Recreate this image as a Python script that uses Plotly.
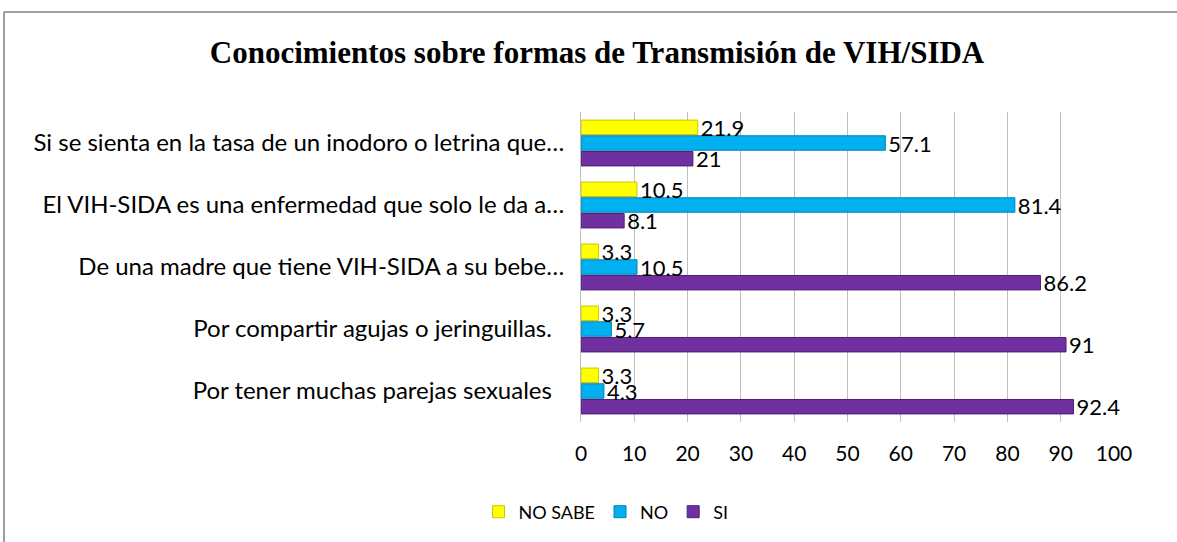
import plotly.graph_objects as go

categories = [
    "Por tener muchas parejas sexuales  ",
    "Por compartir agujas o jeringuillas.  ",
    "De una madre que tiene VIH-SIDA a su bebe…",
    "El VIH-SIDA es una enfermedad que solo le da a…",
    "Si se sienta en la tasa de un inodoro o letrina que…",
]
si = [92.4, 91, 86.2, 8.1, 21]
no = [4.3, 5.7, 10.5, 81.4, 57.1]
no_sabe = [3.3, 3.3, 3.3, 10.5, 21.9]
x_ticks = [0, 10, 20, 30, 40, 50, 60, 70, 80, 90, 100]

FONT = "Lato"

fig = go.Figure()
series = [
    ("SI", si, "#7030A0", "#4E1F73"),
    ("NO", no, "#00B0F0", "#0083B5"),
    ("NO SABE", no_sabe, "#FFFF00", "#C8C800"),
]
for name, vals, col, edge in series:
    fig.add_trace(go.Bar(
        y=categories, x=vals, name=name, orientation="h",
        marker=dict(color=col, line=dict(color=edge, width=1)),
        text=[str(v) for v in vals], textposition="outside",
        constraintext="none",
        textfont=dict(family=FONT, size=22, color="#000000"),
        cliponaxis=False,
    ))

L, R, T, B = 581, 1114, 112, 422
W, H = 1177, 542
pw, ph = R - L, B - T

fig.update_layout(
    width=W, height=H,
    margin=dict(l=L, r=W - R, t=T, b=H - B),
    paper_bgcolor="white", plot_bgcolor="white",
    barmode="group", bargap=0.24, bargroupgap=0.08,
    title=dict(text="<b>Conocimientos sobre formas de Transmisión de VIH/SIDA</b>",
               font=dict(family="Liberation Serif", size=31, color="#000000"),
               x=597 / W, xanchor="center", y=1 - 52 / H, yanchor="middle"),
    legend=dict(orientation="h", traceorder="reversed", itemwidth=30,
                x=(606 - L) / pw, xanchor="center",
                y=(B - 512) / ph, yanchor="middle",
                font=dict(family=FONT, size=18, color="#000000")),
    showlegend=True,
    xaxis=dict(range=[0, 100], tickvals=x_ticks, showgrid=True,
               gridcolor="#BFBFBF", gridwidth=1, zeroline=False,
               tickfont=dict(family=FONT, size=21, color="#000000"),
               ticklabelstandoff=17, showline=False, fixedrange=True),
    yaxis=dict(showgrid=False, showline=True, linecolor="#BFBFBF",
               tickfont=dict(family=FONT, size=24, color="#000000"),
               ticklabelstandoff=11, fixedrange=True),
    shapes=[
        dict(type="line", xref="paper", yref="paper",
             x0=(4 - L) / pw, x1=(W + 10 - L) / pw,
             y0=(B - 12) / ph, y1=(B - 12) / ph,
             line=dict(color="#7F7F7F", width=1.5)),
        dict(type="line", xref="paper", yref="paper",
             x0=(4 - L) / pw, x1=(4 - L) / pw,
             y0=(B - 12) / ph, y1=(B - H - 10) / ph,
             line=dict(color="#7F7F7F", width=1.5)),
    ],
)

fig.write_html("out.html", config={"displayModeBar": False},
               post_script="document.body.style.margin='0';")
